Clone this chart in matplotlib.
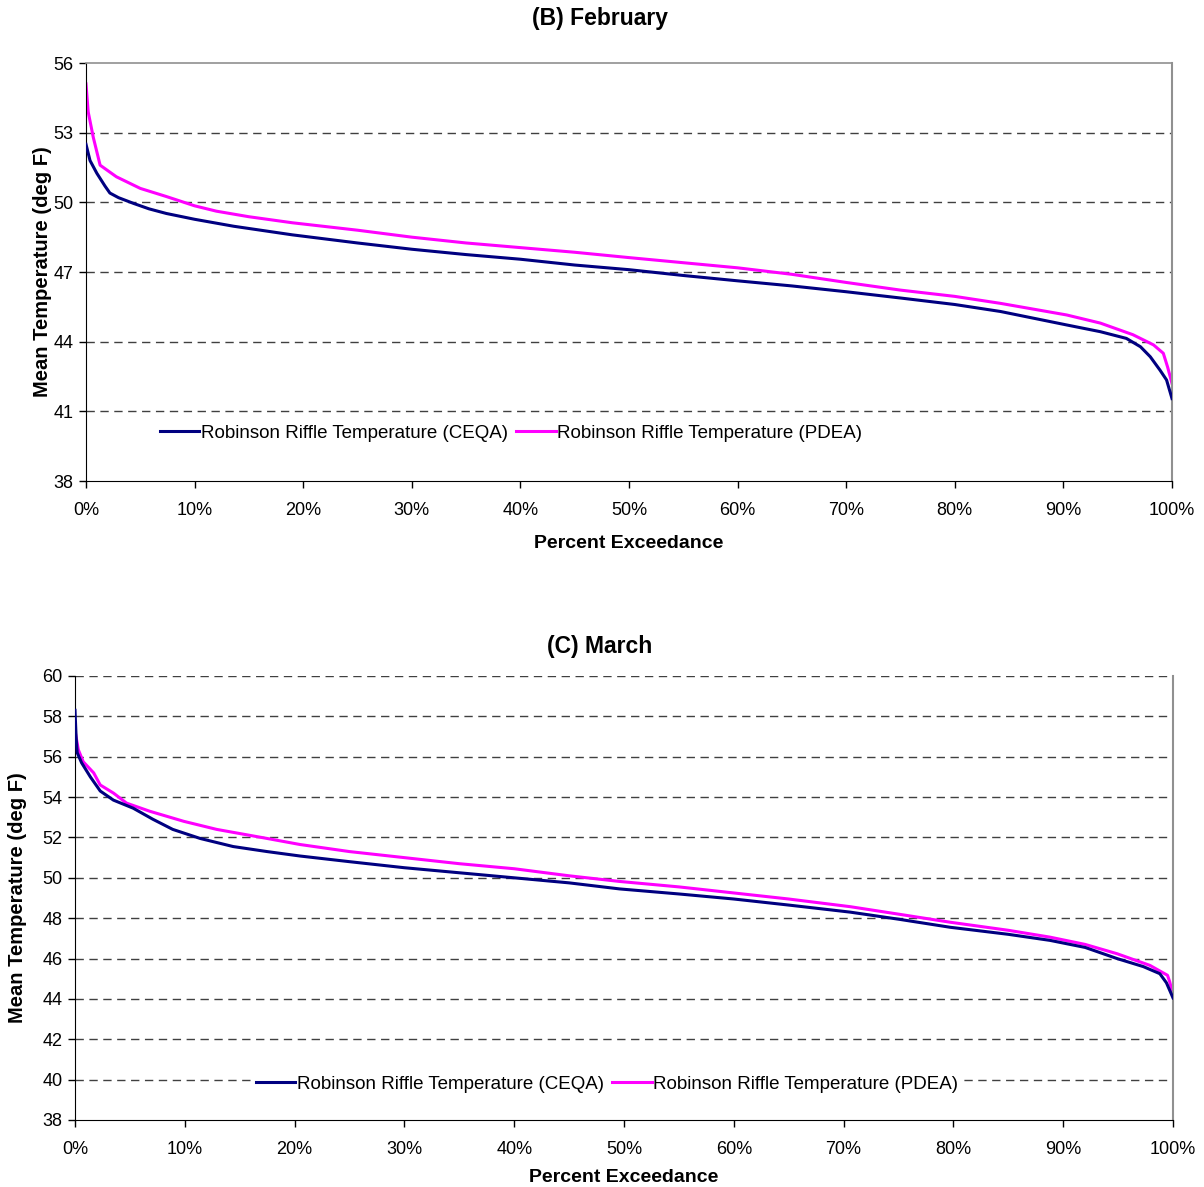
import matplotlib
matplotlib.use("Agg")
import matplotlib.pyplot as plt
from matplotlib.ticker import PercentFormatter
import numpy as np

plt.rcParams['font.family'] = ['Liberation Sans', 'DejaVu Sans']

# ---- Data (percent exceedance, temperature deg F) ----
feb_ceqa_pct = [0, 0.37, 1.0, 1.75, 2.2, 3.0, 4.4, 5.8, 7.4, 10, 13.6, 19, 25, 30, 35, 40, 45, 50,
                55, 60, 65, 70, 75, 80, 84.2, 90.3, 93.4, 95.8, 97.1, 98.0, 98.9, 99.5, 100]
feb_ceqa = [52.5, 51.8, 51.25, 50.7, 50.4, 50.2, 49.95, 49.72, 49.52, 49.27, 48.97, 48.6, 48.25,
            47.98, 47.75, 47.55, 47.3, 47.1, 46.85, 46.62, 46.4, 46.15, 45.88, 45.6, 45.3, 44.72,
            44.43, 44.14, 43.78, 43.35, 42.77, 42.35, 41.55]

feb_pdea_pct = [0, 0.2, 0.67, 1.3, 2.8, 5, 7.4, 10, 12, 15, 19, 25, 30, 35, 40, 45, 50, 55, 60, 65,
                70, 75, 80, 84.2, 90.3, 93.4, 96.4, 98.3, 99.2, 99.6, 100]
feb_pdea = [55.1, 53.9, 52.8, 51.6, 51.1, 50.6, 50.25, 49.85, 49.62, 49.38, 49.12, 48.8, 48.5,
            48.25, 48.05, 47.85, 47.62, 47.4, 47.18, 46.9, 46.55, 46.22, 45.95, 45.65, 45.15,
            44.8, 44.3, 43.86, 43.5, 42.9, 42.2]

mar_ceqa_pct = [0, 0.1, 0.2, 0.6, 1.4, 2.3, 3.5, 5.3, 7.1, 8.9, 11.4, 14.4, 17.5, 20.5, 25, 30,
                35, 40, 45, 49.6, 55, 60, 65, 70.6, 75, 79.7, 85, 88.8, 92, 94.9, 97.3, 98.8,
                99.4, 100]
mar_ceqa = [58.3, 57.0, 56.2, 55.7, 55.0, 54.3, 53.85, 53.45, 52.9, 52.4, 51.95, 51.55, 51.3,
            51.08, 50.8, 50.5, 50.25, 50.0, 49.75, 49.45, 49.2, 48.95, 48.65, 48.3, 47.95,
            47.55, 47.2, 46.9, 46.55, 46.0, 45.6, 45.25, 44.8, 44.05]

mar_pdea_pct = [0, 0.3, 0.75, 1.7, 2.3, 3.5, 4.7, 6.8, 9.9, 12.9, 17.5, 20.5, 25, 30, 35, 40,
                45, 49.6, 55, 60, 65, 70.6, 75, 79.7, 85, 88.8, 92, 94.9, 97.9, 99.5, 99.7, 100]
mar_pdea = [57.3, 56.35, 55.75, 55.2, 54.6, 54.2, 53.7, 53.3, 52.8, 52.4, 51.95, 51.65, 51.3,
            51.0, 50.7, 50.45, 50.1, 49.82, 49.55, 49.25, 48.95, 48.57, 48.2, 47.8, 47.4,
            47.06, 46.7, 46.24, 45.66, 45.17, 44.85, 44.2]

series_labels = ["Robinson Riffle Temperature (CEQA)", "Robinson Riffle Temperature (PDEA)"]
x_ticks = [0, 10, 20, 30, 40, 50, 60, 70, 80, 90, 100]
feb_yticks = [38, 41, 44, 47, 50, 53, 56]
mar_yticks = [38, 40, 42, 44, 46, 48, 50, 52, 54, 56, 58, 60]

NAVY = "#000080"
MAG = "#FF00FF"

W, H = 1204, 1187
fig = plt.figure(figsize=(W / 100, H / 100), dpi=100)


def frac(x0, y0, x1, y1):
    return [x0 / W, 1 - y1 / H, (x1 - x0) / W, (y1 - y0) / H]


def style(ax, yticks, top_spine, xlabelpad, ylabel_x):
    ax.set_xlim(0, 100)
    ax.set_ylim(yticks[0], yticks[-1])
    ax.set_xticks(x_ticks)
    ax.xaxis.set_major_formatter(PercentFormatter(decimals=0))
    ax.set_yticks(yticks)
    ax.tick_params(axis='both', labelsize=13, colors='black', direction='out',
                   length=5, width=1)
    ax.tick_params(axis='x', pad=10)
    ax.tick_params(axis='y', pad=4)
    for g in yticks[1:-1] + ([] if top_spine else [yticks[-1]]):
        ax.axhline(g, color='#404040', lw=1.0, ls=(0, (6, 4)), zorder=1)
    ax.spines['left'].set_color('black')
    ax.spines['bottom'].set_color('black')
    ax.spines['right'].set_color('#909090')
    ax.spines['right'].set_linewidth(1.5)
    if top_spine:
        ax.spines['top'].set_color('#909090')
        ax.spines['top'].set_linewidth(1.2)
    else:
        ax.spines['top'].set_visible(False)
    ax.set_xlabel("Percent Exceedance", fontsize=14, fontweight='bold', labelpad=xlabelpad)
    ax.set_ylabel("Mean Temperature (deg F)", fontsize=14.5, fontweight='bold')
    ax.yaxis.set_label_coords(ylabel_x, 0.5)


# ---- Top: February ----
ax1 = fig.add_axes(frac(86, 63, 1172, 481))
l1, = ax1.plot(feb_ceqa_pct, feb_ceqa, color=NAVY, lw=2.2, zorder=3)
l2, = ax1.plot(feb_pdea_pct, feb_pdea, color=MAG, lw=2.2, zorder=2)
style(ax1, feb_yticks, True, 12, (52 - 86) / 1086)
fig.text(600 / W, 1 - 19 / H, "(B) February", ha='center', va='center',
         fontsize=16.5, fontweight='bold')
ax1.legend([l1, l2], series_labels, loc='center', bbox_to_anchor=(511 / W, 1 - 433 / H),
           bbox_transform=fig.transFigure, ncol=2, frameon=False, fontsize=13.5,
           handlelength=2.1, handletextpad=0.1, columnspacing=0.45)

# ---- Bottom: March ----
ax2 = fig.add_axes(frac(75, 676, 1173, 1120))
m1, = ax2.plot(mar_ceqa_pct, mar_ceqa, color=NAVY, lw=2.2, zorder=3)
m2, = ax2.plot(mar_pdea_pct, mar_pdea, color=MAG, lw=2.2, zorder=2)
style(ax2, mar_yticks, False, 8, (27 - 75) / 1098)
fig.text(600 / W, 1 - 646 / H, "(C) March", ha='center', va='center',
         fontsize=16.5, fontweight='bold')
leg2 = ax2.legend([m1, m2], series_labels, loc='center', bbox_to_anchor=(607 / W, 1 - 1084 / H),
                  bbox_transform=fig.transFigure, ncol=2, frameon=True, fontsize=13.5,
                  handlelength=2.1, handletextpad=0.1, columnspacing=0.45,
                  fancybox=False, borderpad=0.2, borderaxespad=0)
leg2.get_frame().set_edgecolor('white')
leg2.get_frame().set_facecolor('white')
leg2.get_frame().set_alpha(1)
leg2.set_zorder(5)

fig.savefig("out.png", dpi=100)
